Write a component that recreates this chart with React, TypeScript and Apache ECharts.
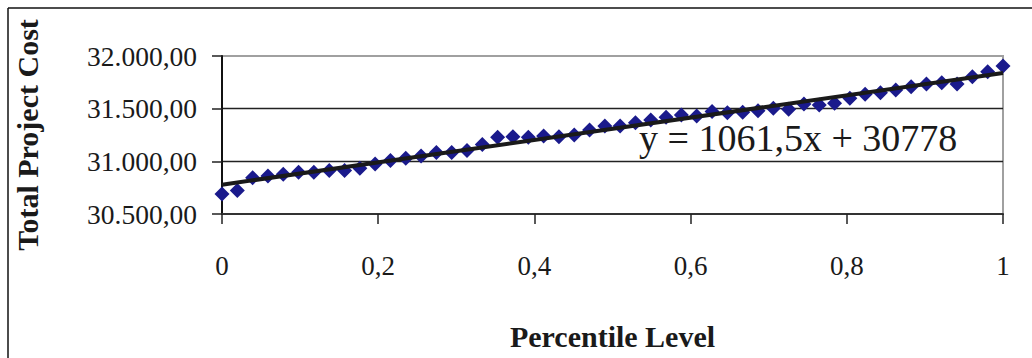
import React, { useEffect, useRef } from "react";
import * as echarts from "echarts";

const percentiles = [
  0, 0.0196, 0.0392, 0.0588, 0.0784, 0.098, 0.1176, 0.1373, 0.1569, 0.1765,
  0.1961, 0.2157, 0.2353, 0.2549, 0.2745, 0.2941, 0.3137, 0.3333, 0.3529, 0.3725,
  0.3922, 0.4118, 0.4314, 0.451, 0.4706, 0.4902, 0.5098, 0.5294, 0.549, 0.5686,
  0.5882, 0.6078, 0.6275, 0.6471, 0.6667, 0.6863, 0.7059, 0.7255, 0.7451, 0.7647,
  0.7843, 0.8039, 0.8235, 0.8431, 0.8627, 0.8824, 0.902, 0.9216, 0.9412, 0.9608,
  0.9804, 1,
];

const costs = [
  30690, 30722, 30845, 30861, 30877, 30896, 30896, 30912, 30912, 30934,
  30975, 31007, 31029, 31051, 31083, 31083, 31102, 31160, 31228, 31234,
  31228, 31241, 31234, 31250, 31298, 31336, 31336, 31367, 31393, 31418,
  31440, 31431, 31472, 31462, 31465, 31481, 31503, 31494, 31544, 31535,
  31551, 31598, 31636, 31652, 31677, 31709, 31734, 31747, 31734, 31804,
  31851, 31905,
];

const trendSlope = 1061.5;
const trendIntercept = 30778;
const trendLabel = "y = 1061,5x + 30778";

const xTitle = "Percentile Level";
const yTitle = "Total Project Cost";

const FONT = "'Liberation Serif', 'Times New Roman', serif";

function fmtY(v: number): string {
  const fixed = v.toFixed(2);
  const [intPart, dec] = fixed.split(".");
  const withDots = intPart.replace(/\B(?=(\d{3})+(?!\d))/g, ".");
  return withDots + "," + dec;
}

function fmtX(v: number): string {
  return String(Math.round(v * 10) / 10).replace(".", ",");
}

export default function App() {
  const ref = useRef<HTMLDivElement>(null);

  useEffect(() => {
    document.body.style.margin = "0";
    if (!ref.current) return;
    const chart = echarts.init(ref.current, null, { renderer: "svg" });
    const points = percentiles.map((p, i) => [p, costs[i]]);
    const trend = [
      [0, trendIntercept],
      [1, trendIntercept + trendSlope],
    ];
    chart.setOption({
      animation: false,
      backgroundColor: "#ffffff",
      grid: {
        left: 222,
        right: 29,
        top: 56,
        bottom: 144,
        show: true,
        borderColor: "#a0a0a0",
        borderWidth: 2,
      },
      xAxis: {
        type: "value",
        min: 0,
        max: 1,
        interval: 0.2,
        name: xTitle,
        nameLocation: "middle",
        nameGap: 107,
        nameTextStyle: {
          fontFamily: FONT,
          fontSize: 30,
          fontWeight: "bold",
          color: "#1a1a1a",
        },
        axisLine: { show: true, lineStyle: { color: "#333333", width: 2 } },
        axisTick: { show: true, length: 10, lineStyle: { color: "#222222", width: 1.5 } },
        axisLabel: {
          margin: 38,
          fontFamily: FONT,
          fontSize: 27,
          color: "#1a1a1a",
          formatter: fmtX,
        },
        splitLine: { show: false },
      },
      yAxis: {
        type: "value",
        min: 30500,
        max: 32000,
        interval: 500,
        name: yTitle,
        nameLocation: "middle",
        nameGap: 180,
        nameTextStyle: {
          fontFamily: FONT,
          fontSize: 30,
          fontWeight: "bold",
          color: "#1a1a1a",
        },
        axisLine: { show: true, lineStyle: { color: "#111111", width: 2 } },
        axisTick: { show: true, length: 10, lineStyle: { color: "#222222", width: 1.5 } },
        axisLabel: {
          margin: 25,
          fontFamily: FONT,
          fontSize: 27.5,
          color: "#1a1a1a",
          formatter: fmtY,
        },
        splitLine: {
          show: true,
          showMinLine: false,
          showMaxLine: false,
          lineStyle: { color: "#222222", width: 1.3 },
        },
      },
      series: [
        {
          type: "scatter",
          data: points,
          symbol: "diamond",
          symbolSize: 15,
          itemStyle: { color: "#1a1a8c", opacity: 1 },
          z: 2,
        },
        {
          type: "line",
          data: trend,
          symbol: "none",
          lineStyle: { color: "#1a1a1a", width: 4 },
          z: 3,
        },
      ],
      graphic: [
        {
          type: "line",
          shape: { x1: 8, y1: 8, x2: 1032, y2: 8 },
          style: { stroke: "#111111", lineWidth: 1.5 },
        },
        {
          type: "line",
          shape: { x1: 8, y1: 8, x2: 8, y2: 358 },
          style: { stroke: "#111111", lineWidth: 1.5 },
        },
        {
          type: "text",
          x: 639,
          y: 138,
          z: 10,
          style: {
            text: trendLabel,
            fontFamily: FONT,
            fontSize: 38,
            fill: "#1a1a1a",
            verticalAlign: "middle",
            align: "left",
          },
        },
      ],
    });
    return () => chart.dispose();
  }, []);

  return <div ref={ref} style={{ width: 1032, height: 358 }} />;
}
